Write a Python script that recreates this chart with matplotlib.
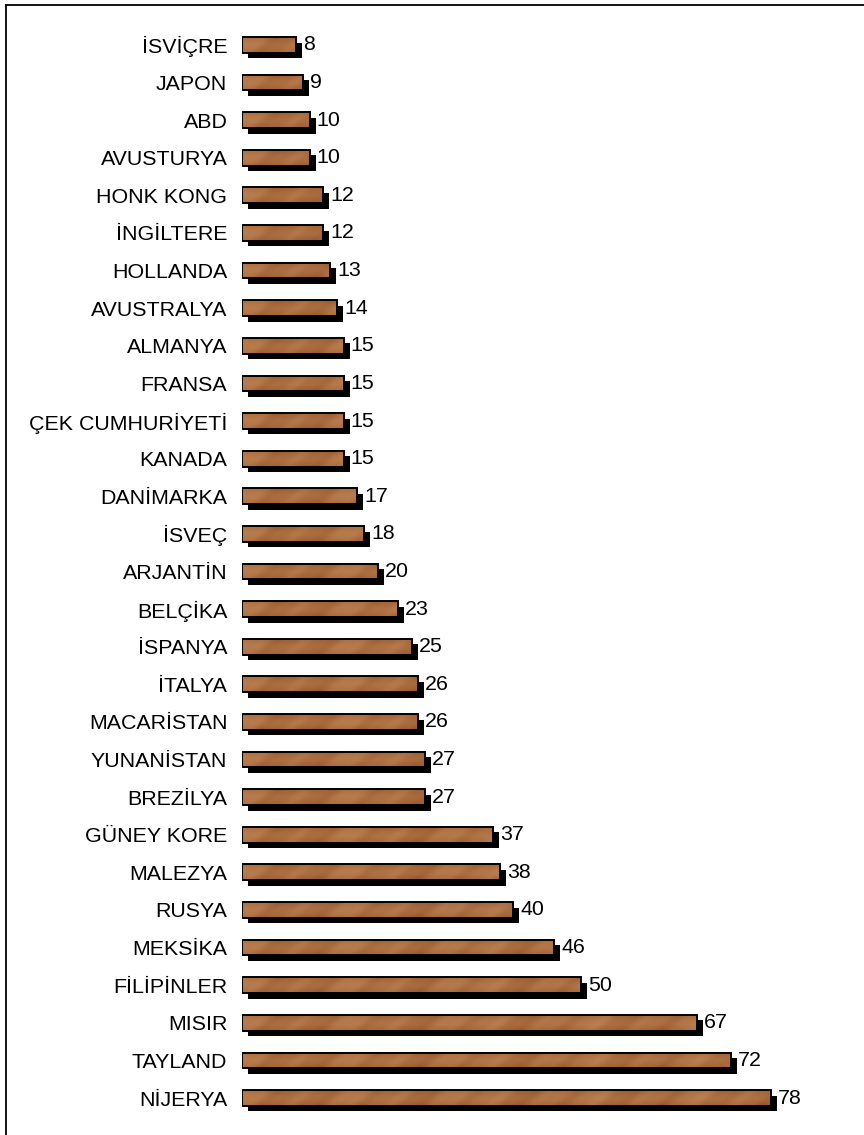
import matplotlib
matplotlib.use('Agg')
import matplotlib.pyplot as plt
import matplotlib.patheffects as pe
from matplotlib.colors import LinearSegmentedColormap
import numpy as np

plt.rcParams['font.family'] = ['Liberation Sans', 'DejaVu Sans']

# ---------------------------------------------------------------------------
# Data (top to bottom)
# ---------------------------------------------------------------------------

countries = ['İSVİÇRE', 'JAPON', 'ABD', 'AVUSTURYA', 'HONK KONG', 'İNGİLTERE',
             'HOLLANDA', 'AVUSTRALYA', 'ALMANYA', 'FRANSA', 'ÇEK CUMHURİYETİ',
             'KANADA', 'DANİMARKA', 'İSVEÇ', 'ARJANTİN', 'BELÇİKA', 'İSPANYA',
             'İTALYA', 'MACARİSTAN', 'YUNANİSTAN', 'BREZİLYA', 'GÜNEY KORE',
             'MALEZYA', 'RUSYA', 'MEKSİKA', 'FİLİPİNLER', 'MISIR', 'TAYLAND',
             'NİJERYA']
values = [8, 9, 10, 10, 12, 12, 13, 14, 15, 15, 15, 15, 17, 18, 20, 23, 25,
          26, 26, 27, 27, 37, 38, 40, 46, 50, 67, 72, 78]

BAR_H = 0.42
FS = 15.4
wood = LinearSegmentedColormap.from_list(
    'wood', ['#8a4f26', '#a5673a', '#b87d4f', '#c99a70'])


def wood_texture(length, rows=5):
    """Soft blotchy wood pattern for one bar (deterministic)."""
    cols = max(int(length * 1.2), 4)
    x = np.linspace(0, length, cols)[None, :]
    y = np.linspace(0, 1, rows)[:, None]
    grain = (0.52 + 0.12 * np.sin(x * 0.85 + 2.0 * y)
             + 0.08 * np.sin(x * 2.1 + 5.0 * y + 1.0)
             + 0.06 * np.cos(x * 0.37))
    # slightly darker towards the upper and lower edges
    grain -= 0.18 * (np.abs(y - 0.5) * 2) ** 2
    return np.clip(grain, 0, 1)


fig = plt.figure(figsize=(8.64, 11.35), dpi=100)
ax = fig.add_axes([0.280, 0.016, 0.715, 0.961])

ypos = np.arange(len(countries))

# shadowed bar bodies
bars = ax.barh(ypos, values, height=BAR_H, color='#a9693a', edgecolor='none',
               zorder=2)
for b in bars:
    b.set_path_effects([pe.SimplePatchShadow(offset=(4.3, -4.0),
                                             shadow_rgbFace='black', alpha=1.0),
                        pe.Normal()])

# wood texture inside each bar
for y, v in zip(ypos, values):
    ax.imshow(wood_texture(v), cmap=wood, vmin=0, vmax=1, aspect='auto',
              interpolation='bicubic',
              extent=(0, v, y + BAR_H / 2, y - BAR_H / 2), zorder=3)

# outlines on top
ax.barh(ypos, values, height=BAR_H, color='none', edgecolor='black',
        linewidth=1.4, zorder=4)

for y, v in zip(ypos, values):
    ax.annotate(str(v), (v, y), xytext=(5.0, 0), textcoords='offset points',
                ha='left', va='center', fontsize=FS, color='black', zorder=5)

ax.set_xlim(0, 91)
ax.set_ylim(len(countries) - 0.5, -0.5)
ax.set_yticks(ypos)
ax.set_yticklabels(countries, fontsize=FS)
ax.tick_params(axis='y', length=0, pad=10.5)
ax.set_xticks([])
for s in ax.spines.values():
    s.set_visible(False)

# outer frame (only top and left edges fall inside the page)
fig.add_artist(plt.Line2D([6 / 864, 1.0], [1 - 4.5 / 1135, 1 - 4.5 / 1135],
                          transform=fig.transFigure, color='black', lw=1.3))
fig.add_artist(plt.Line2D([6 / 864, 6 / 864], [0.0, 1 - 4.5 / 1135],
                          transform=fig.transFigure, color='black', lw=1.3))

fig.savefig('out.png', dpi=100, facecolor='white')
